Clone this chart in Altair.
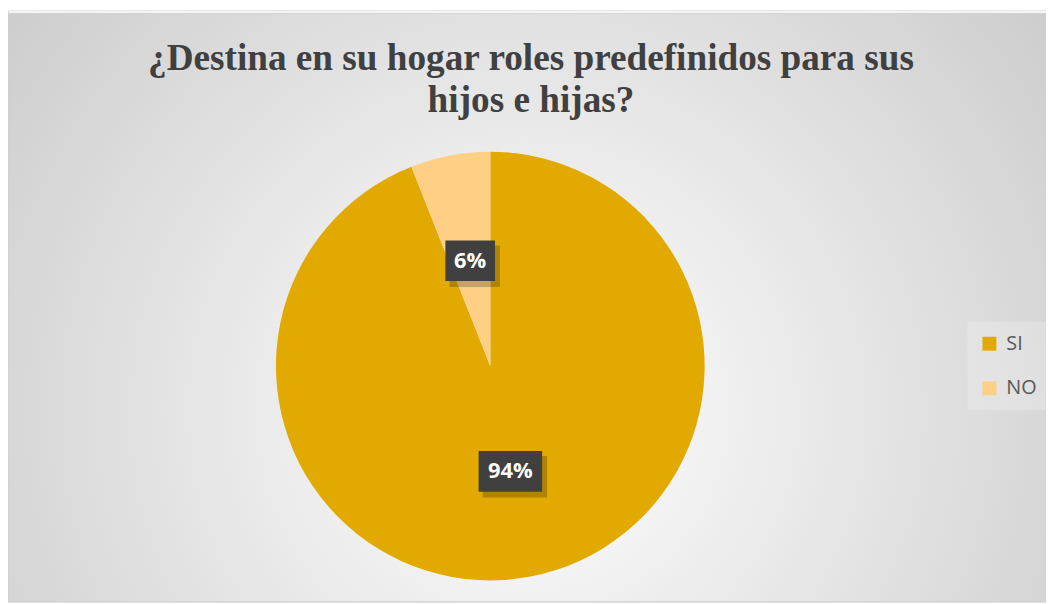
import altair as alt
import pandas as pd

categories = ["SI", "NO"]
values = [94, 6]
labels = ["94%", "6%"]
order_idx = [0, 1]
colors = ["#E2AA00", "#FFCF86"]

title_lines = ["¿Destina en su hogar roles predefinidos para sus", "hijos e hijas?"]

W, H = 1046, 596
CX, CY, R = 486, 358.5, 216
LR = 108  # label radius

df = pd.DataFrame({"cat": categories, "val": values, "label": labels, "idx": order_idx})

base = alt.Chart(df)

bg = alt.Chart(pd.DataFrame({"a": [1]})).mark_rect(
    stroke="#cfcfcf", strokeWidth=1,
    color=alt.Gradient(
        gradient="radial",
        stops=[alt.GradientStop(color="#ffffff", offset=0),
               alt.GradientStop(color="#c6c6c6", offset=1)],
        x1=0.5, y1=0.6, r1=0, x2=0.5, y2=0.6, r2=0.72,
    ),
).encode(x=alt.value(0), x2=alt.value(W), y=alt.value(3), y2=alt.value(H))

title = alt.Chart(pd.DataFrame({"a": [1]})).mark_text(
    font="Liberation Serif", fontWeight="bold", fontSize=37.5, color="#404040",
    align="center", baseline="alphabetic", lineHeight=43,
).encode(x=alt.value(527), y=alt.value(60), text=alt.value(title_lines))

pie = base.mark_arc(outerRadius=R).encode(
    theta=alt.Theta("val:Q", stack=True),
    order=alt.Order("idx:Q"),
    color=alt.Color(
        "cat:N",
        scale=alt.Scale(domain=categories, range=colors),
        sort=categories,
        legend=alt.Legend(
            title=None, orient="none", legendX=967, legendY=314,
            symbolType="square", symbolSize=196, symbolStrokeWidth=0,
            labelFont="Open Sans", labelFontSize=20, labelColor="#595959",
            labelOffset=7, rowPadding=25, padding=12,
            fillColor="rgba(255,255,255,0.22)",
        ),
    ),
    x=alt.value(CX), y=alt.value(CY),
)

calc = base.transform_joinaggregate(
    total="sum(val)"
).transform_window(
    cum="sum(val)", sort=[alt.SortField("idx")], frame=[None, 0]
).transform_calculate(
    mid="(datum.cum - datum.val/2) / datum.total * 2 * PI",
).transform_calculate(
    lx=f"{CX} + {LR} * sin(datum.mid)",
    ly=f"{CY} - {LR} * cos(datum.mid)",
    bw="14 * length(datum.label) + 22",
).transform_calculate(
    x1="datum.lx - datum.bw/2", x2="datum.lx + datum.bw/2",
    y1="datum.ly - 20.5", y2="datum.ly + 20.5",
    sx1="datum.lx - datum.bw/2 + 4", sx2="datum.lx + datum.bw/2 + 5",
    sy1="datum.ly - 20.5 + 5", sy2="datum.ly + 20.5 + 6",
)

shadow = calc.mark_rect(color="#000000", opacity=0.22).encode(
    x=alt.X("sx1:Q", scale=None, axis=None), x2="sx2:Q",
    y=alt.Y("sy1:Q", scale=None, axis=None), y2="sy2:Q",
)

box = calc.mark_rect(color="#404040").encode(
    x=alt.X("x1:Q", scale=None, axis=None), x2="x2:Q",
    y=alt.Y("y1:Q", scale=None, axis=None), y2="y2:Q",
)

txt = calc.mark_text(
    font="Open Sans", fontWeight="bold", fontSize=22, color="#ffffff",
    align="center", baseline="middle",
).encode(
    x=alt.X("lx:Q", scale=None, axis=None),
    y=alt.Y("ly:Q", scale=None, axis=None),
    text="label:N",
)

chart = alt.layer(bg, title, pie, shadow, box, txt).properties(
    width=W, height=H, padding=0,
    autosize=alt.AutoSizeParams(type="none"),
).resolve_scale(x="independent", y="independent").configure_view(stroke=None).configure(background="#ffffff")

chart.save("out.html", embed_options={"renderer": "svg", "actions": False})
